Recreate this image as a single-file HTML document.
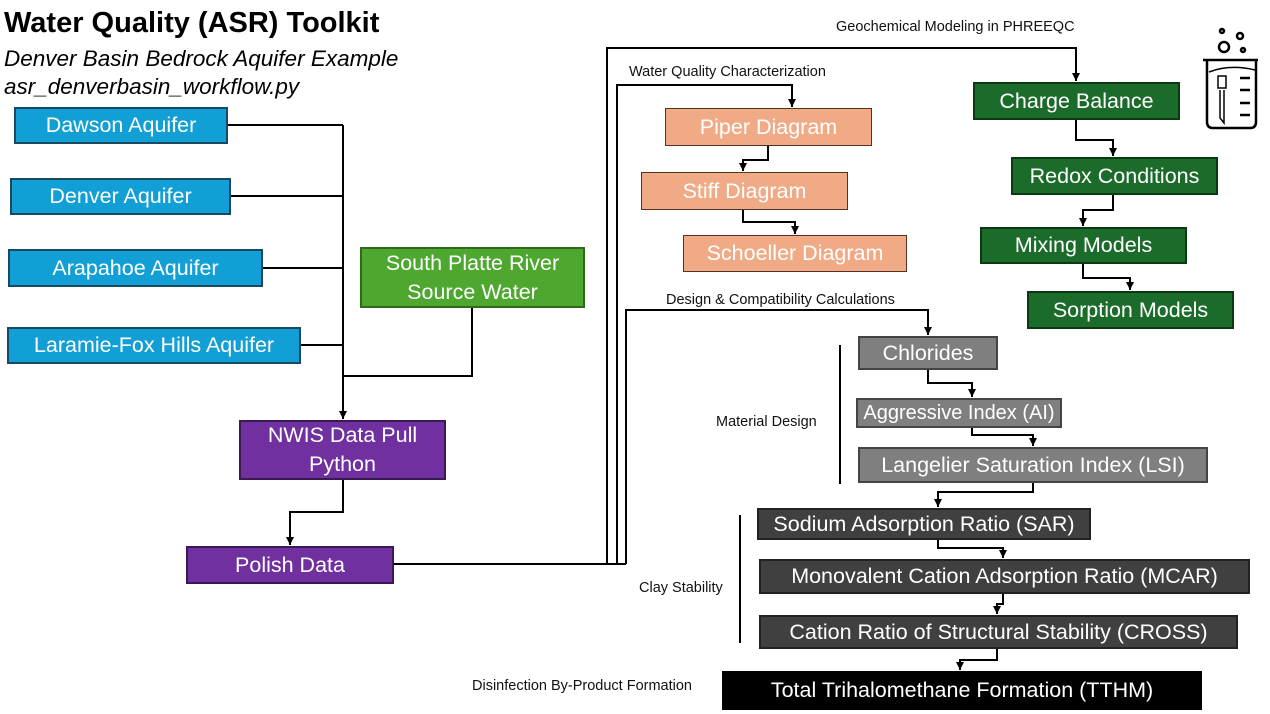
<!DOCTYPE html>
<html><head><meta charset="utf-8"><style>
body{margin:0;width:1270px;height:714px;background:#fff;position:relative;overflow:hidden;font-family:"Liberation Sans",sans-serif}
.b{position:absolute;box-sizing:border-box;color:#fff;display:flex;align-items:center;justify-content:center;text-align:center;font-size:21.5px;line-height:29px;border:2px solid;white-space:nowrap}
.bl{background:#119fd5;border-color:#184a62}
.gr{background:#4ea72e;border-color:#2e6a1a}
.pu{background:#7030a0;border-color:#3a1a55}
.sa{background:#f1aa86;border-color:#5a3020;border-width:1.5px}
.dg{background:#1b6b2a;border-color:#0c3812}
.g1{background:#7f7f7f;border-color:#444}
.g2{background:#404040;border-color:#222}
.bk{background:#000;border-color:#000}
.t{position:absolute;font-size:14.5px;color:#111;white-space:nowrap}
</style></head><body>
<div style="position:absolute;left:4px;top:7px;font-size:29px;font-weight:bold">Water Quality (ASR) Toolkit</div>
<div style="position:absolute;left:4px;top:45px;font-size:22.5px;font-style:italic;line-height:28px">Denver Basin Bedrock Aquifer Example<br>asr_denverbasin_workflow.py</div>

<svg width="1270" height="714" style="position:absolute;left:0;top:0">
<defs><marker id="a" markerWidth="10" markerHeight="10" refX="4" refY="8" orient="0" markerUnits="userSpaceOnUse"><path d="M0,0 L8,0 L4,8z" fill="#000"/></marker></defs>
<g fill="none" stroke="#000" stroke-width="2">
<path d="M228,125 H343 M231,196 H343 M263,268 H343 M301,345 H343"/>
<path d="M343,125 V419" marker-end="url(#a)"/>
<path d="M472,308 V376 H343"/>
<path d="M343,480 V512 H290 V545" marker-end="url(#a)"/>
<path d="M394,564 H626 M607,564 V48 H1076 V81" marker-end="url(#a)"/>
<path d="M617,564 V85 H792 V107" marker-end="url(#a)"/>
<path d="M626,564 V310 H928 V335" marker-end="url(#a)"/>
<path d="M768,146 V160 H743 V171" marker-end="url(#a)"/>
<path d="M743,210 V222 H795 V234" marker-end="url(#a)"/>
<path d="M1076,120 V140 H1113 V156" marker-end="url(#a)"/>
<path d="M1113,195 V210 H1083 V226" marker-end="url(#a)"/>
<path d="M1083,264 V278 H1130 V290" marker-end="url(#a)"/>
<path d="M928,370 V383 H972 V397" marker-end="url(#a)"/>
<path d="M972,428 V435 H1033 V446" marker-end="url(#a)"/>
<path d="M1033,483 V492 H938 V507" marker-end="url(#a)"/>
<path d="M938,540 V548 H1003 V558" marker-end="url(#a)"/>
<path d="M1003,594 V604 H997 V614" marker-end="url(#a)"/>
<path d="M997,649 V660 H960 V670" marker-end="url(#a)"/>
<path d="M840,345 V484 M740,515 V643"/>
</g>
<g fill="none" stroke="#000" stroke-width="2.5">
<circle cx="1224" cy="47" r="5"/><circle cx="1240" cy="36" r="3"/><circle cx="1222" cy="31" r="2"/><circle cx="1243" cy="50" r="2"/>
<path d="M1203,60 H1258 M1207,60 V122 Q1207,128 1213,128 H1250 Q1256,128 1256,122 V60"/>
<path d="M1209,72 Q1230,64 1255,70" stroke-width="1.5"/>
<path d="M1240,78 H1250 M1240,90 H1250 M1240,103 H1250 M1240,115 H1250"/>
<path d="M1218,76 h8 v12 h-8z M1220,90 v28 l4,5 l0,-33" stroke-width="1.5"/>
</g>
</svg>

<div class="b bl" style="left:14px;top:107px;width:214px;height:37px">Dawson Aquifer</div>
<div class="b bl" style="left:10px;top:178px;width:221px;height:37px">Denver Aquifer</div>
<div class="b bl" style="left:8px;top:249px;width:255px;height:38px">Arapahoe Aquifer</div>
<div class="b bl" style="left:7px;top:327px;width:294px;height:37px">Laramie-Fox Hills Aquifer</div>
<div class="b gr" style="left:360px;top:247px;width:225px;height:61px">South Platte River<br>Source Water</div>
<div class="b pu" style="left:239px;top:420px;width:207px;height:60px">NWIS Data Pull<br>Python</div>
<div class="b pu" style="left:186px;top:546px;width:208px;height:38px">Polish Data</div>
<div class="b sa" style="left:665px;top:108px;width:207px;height:38px">Piper Diagram</div>
<div class="b sa" style="left:641px;top:172px;width:207px;height:38px">Stiff Diagram</div>
<div class="b sa" style="left:683px;top:235px;width:224px;height:37px">Schoeller Diagram</div>
<div class="b dg" style="left:973px;top:82px;width:207px;height:38px">Charge Balance</div>
<div class="b dg" style="left:1011px;top:157px;width:207px;height:38px">Redox Conditions</div>
<div class="b dg" style="left:980px;top:227px;width:207px;height:37px">Mixing Models</div>
<div class="b dg" style="left:1027px;top:291px;width:207px;height:38px">Sorption Models</div>
<div class="b g1" style="left:858px;top:336px;width:140px;height:34px">Chlorides</div>
<div class="b g1" style="left:856px;top:398px;width:206px;height:30px;font-size:20px">Aggressive Index (AI)</div>
<div class="b g1" style="left:858px;top:447px;width:350px;height:36px">Langelier Saturation Index (LSI)</div>
<div class="b g2" style="left:757px;top:508px;width:334px;height:32px">Sodium Adsorption Ratio (SAR)</div>
<div class="b g2" style="left:759px;top:559px;width:491px;height:35px">Monovalent Cation Adsorption Ratio (MCAR)</div>
<div class="b g2" style="left:759px;top:615px;width:479px;height:34px">Cation Ratio of Structural Stability (CROSS)</div>
<div class="b bk" style="left:722px;top:671px;width:480px;height:39px">Total Trihalomethane Formation (TTHM)</div>

<div class="t" style="left:836px;top:19px">Geochemical Modeling in PHREEQC</div>
<div class="t" style="left:629px;top:64px">Water Quality Characterization</div>
<div class="t" style="left:666px;top:292px">Design &amp; Compatibility Calculations</div>
<div class="t" style="left:716px;top:414px">Material Design</div>
<div class="t" style="left:639px;top:580px">Clay Stability</div>
<div class="t" style="left:472px;top:678px">Disinfection By-Product Formation</div>
</body></html>
